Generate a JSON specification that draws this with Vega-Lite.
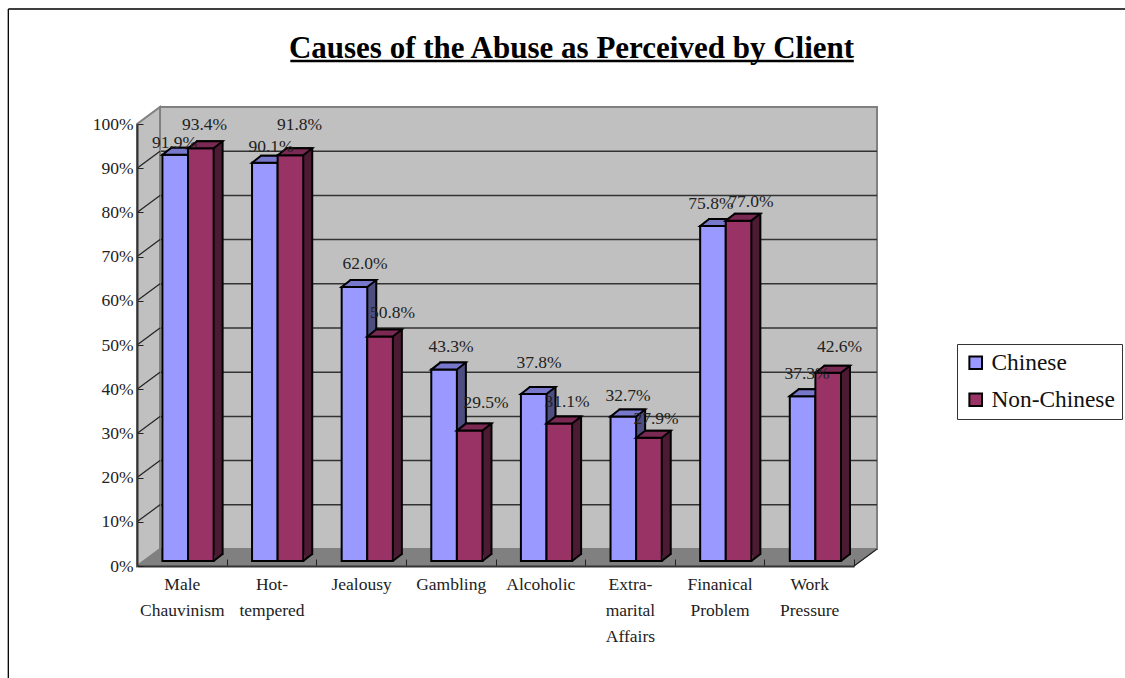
{"$schema":"https://vega.github.io/schema/vega-lite/v6.json","width":717,"height":442,"autosize":"none","padding":{"left":137,"top":124,"right":271,"bottom":112},"background":"white","config":{"view":{"stroke":null},"font":"Liberation Serif"},
"title":{"text":"Causes of the Abuse as Perceived by Client","font":"Liberation Serif","fontSize":31,"fontWeight":"bold","color":"black","anchor":"middle","dx":76,"offset":-59},
"data":{"values":[
{"cause":"Male Chauvinism","group":"Chinese","value":0.919},{"cause":"Male Chauvinism","group":"Non-Chinese","value":0.934},
{"cause":"Hot-tempered","group":"Chinese","value":0.901},{"cause":"Hot-tempered","group":"Non-Chinese","value":0.918},
{"cause":"Jealousy","group":"Chinese","value":0.62},{"cause":"Jealousy","group":"Non-Chinese","value":0.508},
{"cause":"Gambling","group":"Chinese","value":0.433},{"cause":"Gambling","group":"Non-Chinese","value":0.295},
{"cause":"Alcoholic","group":"Chinese","value":0.378},{"cause":"Alcoholic","group":"Non-Chinese","value":0.311},
{"cause":"Extra-marital Affairs","group":"Chinese","value":0.327},{"cause":"Extra-marital Affairs","group":"Non-Chinese","value":0.279},
{"cause":"Finanical Problem","group":"Chinese","value":0.758},{"cause":"Finanical Problem","group":"Non-Chinese","value":0.77},
{"cause":"Work Pressure","group":"Chinese","value":0.373},{"cause":"Work Pressure","group":"Non-Chinese","value":0.426}]},
"encoding":{
"x":{"field":"cause","type":"nominal","title":null,"scale":{"type":"band","paddingInner":0,"paddingOuter":0,"domain":["Male Chauvinism","Hot-tempered","Jealousy","Gambling","Alcoholic","Extra-marital Affairs","Finanical Problem","Work Pressure"]},
"axis":{"zindex":1,"labelAngle":0,"labelFontSize":17.5,"labelFont":"Liberation Serif","labelColor":"#222","labelLineHeight":26,"labelPadding":16,"labelLimit":0,"labelOverlap":false,"labelBaseline":"top","tickBand":"extent","tickSize":-7,"tickColor":"#222","domainColor":"#333","domainWidth":2,"labelExpr":"{'Male Chauvinism':['Male','Chauvinism'],'Hot-tempered':['Hot-','tempered'],'Jealousy':['Jealousy'],'Gambling':['Gambling'],'Alcoholic':['Alcoholic'],'Extra-marital Affairs':['Extra-','marital','Affairs'],'Finanical Problem':['Finanical','Problem'],'Work Pressure':['Work','Pressure']}[datum.label]"}},
"y":{"field":"value","type":"quantitative","title":null,"scale":{"domain":[0,1],"nice":false},
"axis":{"zindex":1,"values":[0,0.1,0.2,0.3,0.4,0.5,0.6,0.7,0.8,0.9,1],"format":".0%","grid":false,"labelFontSize":17.5,"labelFont":"Liberation Serif","labelColor":"#222","labelPadding":10,"tickSize":-6,"tickColor":"#222","domainColor":"#333","domainWidth":2}}},
"layer":[
{"data":{"values":[{"t":1}]},"mark":{"type":"point","filled":true,"size":4,"opacity":1,"fill":"#C0C0C0","stroke":"#808080","strokeWidth":2,"shape":"M-21.8,-17 L695.2,-17 L695.2,425 L-21.8,425 Z"},"encoding":{"x":{"datum":"Male Chauvinism"},"y":{"field":"t","type":"quantitative","title":null}}},
{"data":{"values":[{"t":0.1},{"t":0.2},{"t":0.3},{"t":0.4},{"t":0.5},{"t":0.6},{"t":0.7},{"t":0.8},{"t":0.9}]},"mark":{"type":"rule","stroke":"#333","strokeWidth":1.5,"xOffset":23,"x2Offset":23,"yOffset":-17},"encoding":{"x":null,"y":{"field":"t","type":"quantitative","title":null}}},
{"data":{"values":[{"t":1}]},"mark":{"type":"point","filled":true,"size":4,"opacity":1,"fill":"#C0C0C0","stroke":"#808080","strokeWidth":2,"shape":"M-44.8,442 L-21.8,425 L-21.8,-17 L-44.8,0 Z"},"encoding":{"x":{"datum":"Male Chauvinism"},"y":{"field":"t","type":"quantitative","title":null}}},
{"data":{"values":[{"t":0}]},"mark":{"type":"point","filled":true,"size":4,"opacity":1,"fill":"#808080","stroke":"#808080","strokeWidth":1,"shape":"M-44.8,0 L-21.8,-17 L695.2,-17 L672.2,0 Z"},"encoding":{"x":{"datum":"Male Chauvinism"},"y":{"field":"t","type":"quantitative","title":null}}},
{"data":{"values":[{"t":0}]},"mark":{"type":"point","filled":false,"size":4,"opacity":1,"stroke":"#222","strokeWidth":1.2,"shape":"M672.2,0 L695.2,-17"},"encoding":{"x":{"datum":"Male Chauvinism"},"y":{"field":"t","type":"quantitative","title":null}}},
{"data":{"values":[{"t":0.1},{"t":0.2},{"t":0.3},{"t":0.4},{"t":0.5},{"t":0.6},{"t":0.7},{"t":0.8},{"t":0.9}]},"mark":{"type":"point","filled":false,"size":4,"opacity":1,"stroke":"#222","strokeWidth":1.2,"shape":"M-44.8,0 L-21.8,-17"},"encoding":{"x":{"datum":"Male Chauvinism"},"y":{"field":"t","type":"quantitative","title":null}}},
{"data":{"values":[{"t":1}]},"mark":{"type":"point","filled":false,"size":4,"opacity":1,"stroke":"black","strokeWidth":1.3,"shape":"M-173.5,-115 L943.2,-115 M-173.5,-115 L-173.5,554"},"encoding":{"x":{"datum":"Male Chauvinism"},"y":{"field":"t","type":"quantitative","title":null}}},
{"data":{"values":[{"t":1}]},"mark":{"type":"point","filled":false,"size":4,"opacity":1,"stroke":"black","strokeWidth":2.5,"shape":"M108.5,-63 L672,-63"},"encoding":{"x":{"datum":"Male Chauvinism"},"y":{"field":"t","type":"quantitative","title":null}}},
{"transform":[{"filter":"datum.group=='Chinese'"}],"mark":{"type":"bar","width":25.6,"fill":"#4D4D80","stroke":"black","strokeWidth":2,"xOffset":2.4,"x2Offset":2.4,"yOffset":-12,"y2Offset":-12}},
{"transform":[{"filter":"datum.group=='Chinese'"}],"mark":{"type":"bar","width":25.6,"stroke":"black","strokeWidth":2,"xOffset":-6.6,"x2Offset":-6.6,"yOffset":-5,"y2Offset":-5},"encoding":{"fill":{"field":"group","type":"nominal","title":null,"scale":{"domain":["Chinese","Non-Chinese"],"range":["#9999FF","#993366"]},"legend":{"orient":"none","legendX":820,"legendY":220,"fillColor":"white","strokeColor":"#333","padding":7,"symbolType":"square","symbolSize":160,"symbolStrokeColor":"black","symbolStrokeWidth":2,"labelFontSize":23.4,"labelFont":"Liberation Serif","labelColor":"#111","labelOffset":4,"labelLimit":0,"rowPadding":12,"title":null}}}},
{"transform":[{"filter":"datum.group=='Chinese'"}],"mark":{"type":"point","filled":true,"size":4,"opacity":1,"fill":"#7777CC","stroke":"black","strokeWidth":2,"xOffset":-6.6,"yOffset":-5,"shape":"M-12.8,0 L-3.8,-7 L21.8,-7 L12.8,0 Z"}},
{"transform":[{"filter":"datum.group=='Non-Chinese'"}],"mark":{"type":"bar","width":25.6,"fill":"#4D1A33","stroke":"black","strokeWidth":2,"xOffset":28,"x2Offset":28,"yOffset":-12,"y2Offset":-12}},
{"transform":[{"filter":"datum.group=='Non-Chinese'"}],"mark":{"type":"bar","width":25.6,"stroke":"black","strokeWidth":2,"xOffset":19,"x2Offset":19,"yOffset":-5,"y2Offset":-5},"encoding":{"fill":{"field":"group","type":"nominal","title":null,"scale":{"domain":["Chinese","Non-Chinese"],"range":["#9999FF","#993366"]},"legend":{"orient":"none","legendX":820,"legendY":220,"fillColor":"white","strokeColor":"#333","padding":7,"symbolType":"square","symbolSize":160,"symbolStrokeColor":"black","symbolStrokeWidth":2,"labelFontSize":23.4,"labelFont":"Liberation Serif","labelColor":"#111","labelOffset":4,"labelLimit":0,"rowPadding":12,"title":null}}}},
{"transform":[{"filter":"datum.group=='Non-Chinese'"}],"mark":{"type":"point","filled":true,"size":4,"opacity":1,"fill":"#7A2952","stroke":"black","strokeWidth":2,"xOffset":19,"yOffset":-5,"shape":"M-12.8,0 L-3.8,-7 L21.8,-7 L12.8,0 Z"}},
{"transform":[{"filter":"datum.group=='Non-Chinese'"}],"mark":{"type":"point","filled":true,"size":4,"opacity":1,"fill":"#4D1A33","strokeWidth":0,"xOffset":19,"yOffset":-5,"shape":"M12.8,0 L20.8,-6.2 L20.8,-9 L13.8,-9 L13.8,0 Z"},"encoding":{"y":{"datum":0}}},
{"transform":[{"filter":"datum.group=='Non-Chinese'"}],"mark":{"type":"point","filled":false,"size":4,"opacity":1,"stroke":"black","strokeWidth":2,"xOffset":19,"yOffset":-5,"shape":"M12.8,0 L21.8,-7"},"encoding":{"y":{"datum":0}}},
{"transform":[{"filter":"datum.value==0.919"}],"mark":{"type":"text","dx":-7.3,"dy":-17.1,"fontSize":17.5,"fill":"#222"},"encoding":{"text":{"field":"value","format":".1%"}}},
{"transform":[{"filter":"datum.value==0.934"}],"mark":{"type":"text","dx":22.7,"dy":-28.2,"fontSize":17.5,"fill":"#222"},"encoding":{"text":{"field":"value","format":".1%"}}},
{"transform":[{"filter":"datum.value==0.901"}],"mark":{"type":"text","dx":-0.4,"dy":-20.3,"fontSize":17.5,"fill":"#222"},"encoding":{"text":{"field":"value","format":".1%"}}},
{"transform":[{"filter":"datum.value==0.918"}],"mark":{"type":"text","dx":28.1,"dy":-35.2,"fontSize":17.5,"fill":"#222"},"encoding":{"text":{"field":"value","format":".1%"}}},
{"transform":[{"filter":"datum.value==0.62"}],"mark":{"type":"text","dx":4,"dy":-27.7,"fontSize":17.5,"fill":"#222"},"encoding":{"text":{"field":"value","format":".1%"}}},
{"transform":[{"filter":"datum.value==0.508"}],"mark":{"type":"text","dx":31.5,"dy":-28.5,"fontSize":17.5,"fill":"#222"},"encoding":{"text":{"field":"value","format":".1%"}}},
{"transform":[{"filter":"datum.value==0.433"}],"mark":{"type":"text","dx":0.3,"dy":-27.6,"fontSize":17.5,"fill":"#222"},"encoding":{"text":{"field":"value","format":".1%"}}},
{"transform":[{"filter":"datum.value==0.295"}],"mark":{"type":"text","dx":35.3,"dy":-32.6,"fontSize":17.5,"fill":"#222"},"encoding":{"text":{"field":"value","format":".1%"}}},
{"transform":[{"filter":"datum.value==0.378"}],"mark":{"type":"text","dx":-1.3,"dy":-35.9,"fontSize":17.5,"fill":"#222"},"encoding":{"text":{"field":"value","format":".1%"}}},
{"transform":[{"filter":"datum.value==0.311"}],"mark":{"type":"text","dx":26.7,"dy":-26.8,"fontSize":17.5,"fill":"#222"},"encoding":{"text":{"field":"value","format":".1%"}}},
{"transform":[{"filter":"datum.value==0.327"}],"mark":{"type":"text","dx":-1.9,"dy":-25.5,"fontSize":17.5,"fill":"#222"},"encoding":{"text":{"field":"value","format":".1%"}}},
{"transform":[{"filter":"datum.value==0.279"}],"mark":{"type":"text","dx":26.1,"dy":-23.7,"fontSize":17.5,"fill":"#222"},"encoding":{"text":{"field":"value","format":".1%"}}},
{"transform":[{"filter":"datum.value==0.758"}],"mark":{"type":"text","dx":-8.6,"dy":-27,"fontSize":17.5,"fill":"#222"},"encoding":{"text":{"field":"value","format":".1%"}}},
{"transform":[{"filter":"datum.value==0.77"}],"mark":{"type":"text","dx":31.4,"dy":-23.7,"fontSize":17.5,"fill":"#222"},"encoding":{"text":{"field":"value","format":".1%"}}},
{"transform":[{"filter":"datum.value==0.373"}],"mark":{"type":"text","dx":-2.2,"dy":-27.1,"fontSize":17.5,"fill":"#222"},"encoding":{"text":{"field":"value","format":".1%"}}},
{"transform":[{"filter":"datum.value==0.426"}],"mark":{"type":"text","dx":30.3,"dy":-30.7,"fontSize":17.5,"fill":"#222"},"encoding":{"text":{"field":"value","format":".1%"}}}
]}
